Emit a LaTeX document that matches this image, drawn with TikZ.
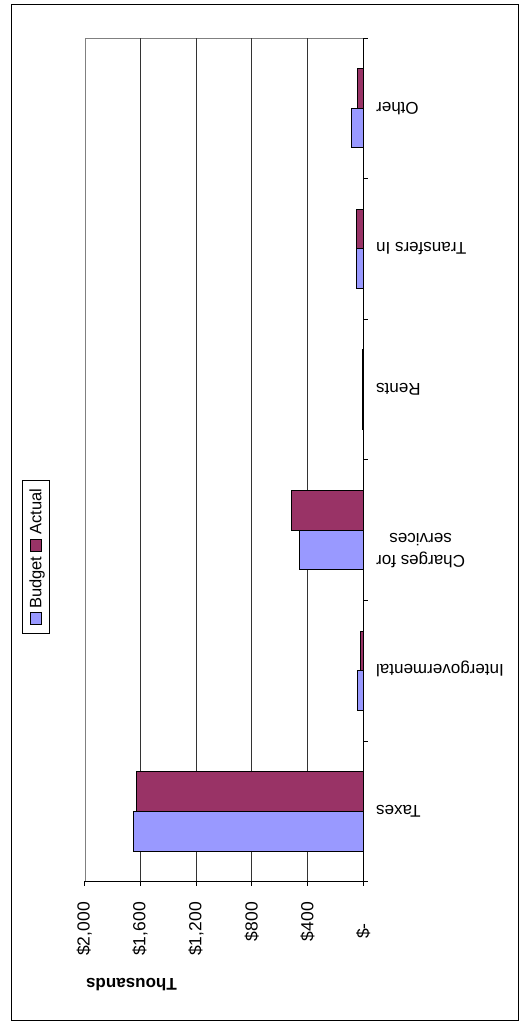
\documentclass[tikz,border=0pt]{standalone}
\usepackage{fontspec}
\setmainfont{Liberation Sans}
\usetikzlibrary{positioning,calc}
\definecolor{budgetblue}{RGB}{153,153,255}
\definecolor{actualred}{RGB}{153,51,102}

\begin{document}
\begin{tikzpicture}[x=1pt, y=-1pt,
    frame/.style={draw=black, line width=0.9pt},
    border/.style={draw=black!50, line width=0.8pt},
    gridline/.style={draw=black!80, line width=0.8pt},
    axis/.style={draw=black, line width=0.8pt},
    bar/.style={draw=black, line width=0.9pt},
    catlabel/.style={rotate=180, anchor=base east, inner sep=0pt, align=center, font=\fontsize{17}{21.5}\selectfont},
    valuelabel/.style={rotate=90, anchor=east, inner sep=0pt, font=\fontsize{17.5}{20}\selectfont},
    legendlabel/.style={rotate=90, anchor=base west, inner sep=0pt, font=\fontsize{16.5}{18}\selectfont}
]
    \useasboundingbox (0,0) rectangle (519,1023);
    \draw[frame] (11,4) rectangle (518,1020);

    % plot area and value axis
    \draw[border] (363.3,38) -- (85,38) -- (85,881);
    \foreach \v in {400,800,1200,1600}
        \draw[gridline] ({363.3-0.1395*\v},38) -- ({363.3-0.1395*\v},881);
    \draw[axis] (85,881) -- (363.3,881);
    \foreach \v/\t/\e [count=\i] in {0/{\$-{}}/923, 400/\$400/902, 800/\$800/902, 1200/{\$1,200}/902, 1600/{\$1,600}/902, 2000/{\$2,000}/902} {
        \draw[axis] ({363.3-0.1395*\v},881) -- ++(0,5);
        \node[valuelabel] (tick\i) at ({363.3-0.1395*\v},\e) {\t};
    }
    \node[rotate=180, font=\bfseries\fontsize{17}{19}\selectfont] (units) at (131.5,985) {Thousands};

    % category axis and bars
    \draw[axis] (363.3,38) -- (363.3,886);
    \foreach \k in {0,...,6}
        \draw[axis] (363.3,{881.8-140.65*\k}) -- ++(5,0);
    \foreach \name/\b/\a/\off [count=\i from 0] in {Taxes/1649/1624/-6.1, Intergovermental/43/19/-6.1, {Charges for\\services}/461/516/3.7, Rents/5/5/-6.1, Transfers In/47/47/-6.1, Other/83/40/-6.1} {
        \pgfmathsetmacro\c{881.8-140.65*(\i+0.5)}
        \draw[bar, fill=budgetblue] ({363.3-0.1395*\b},\c) rectangle (363.3,\c+39.7);
        \draw[bar, fill=actualred] ({363.3-0.1395*\a},\c-39.7) rectangle (363.3,\c);
        \node[catlabel] (cat\i) at (376,\c+\off) {\name};
    }

    % legend
    \draw[draw=black, line width=0.8pt] (22.3,480) rectangle (49.3,633);
    \draw[bar, fill=budgetblue] (30,612) rectangle (41,624.5);
    \draw[bar, fill=actualred] (30,539) rectangle (41,551.5);
    \node[legendlabel] (legbudget) at (41.5,609) {Budget};
    \node[legendlabel] (legactual) at (41.5,535) {Actual};
\end{tikzpicture}
\end{document}
